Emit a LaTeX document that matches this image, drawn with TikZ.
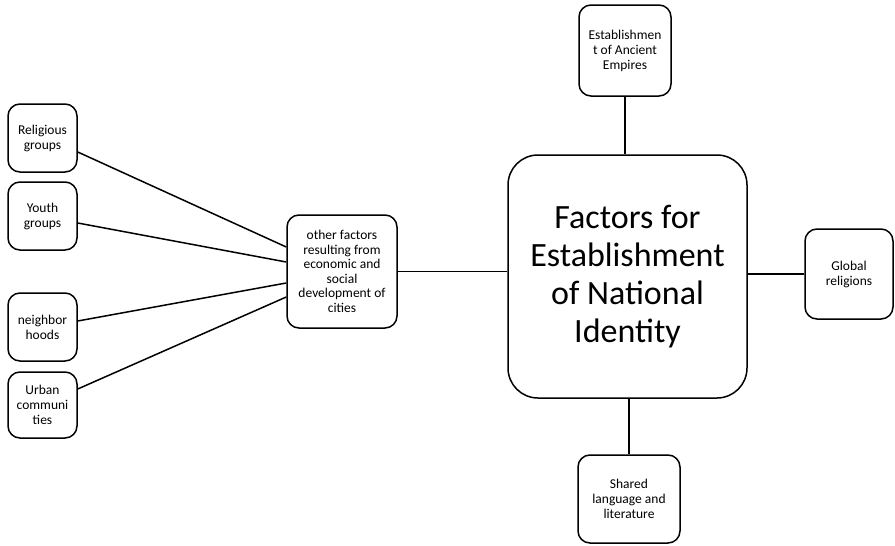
\documentclass[tikz,border=0pt]{standalone}
\usepackage{fontspec}
\setmainfont{Carlito}

\begin{document}
\begin{tikzpicture}[x=1pt,y=-1pt,
    box/.style={draw,line width=1.5pt,rounded corners=12pt,align=center,
      inner sep=0pt,font=\fontsize{13.5}{15}\selectfont},
    link/.style={line width=1.5pt}]
  \useasboundingbox (0,0) rectangle (895,546);

  % centre and the four outer factors
  \node[box,rounded corners=30pt,minimum width=239pt,minimum height=243pt,
    font=\fontsize{34}{38}\selectfont] (main) at (627.5,276.5)
    {Factors for\\Establishment\\of National\\Identity};
  \node[box,minimum width=92pt,minimum height=91pt] (empire) at (625,50.5)
    {Establishmen\\t of Ancient\\Empires};
  \node[box,minimum width=88pt,minimum height=90pt] (global) at (849,274)
    {Global\\religions};
  \node[box,minimum width=102pt,minimum height=88pt] (shared) at (629,499)
    {Shared\\language and\\literature};
  \node[box,minimum width=110pt,minimum height=113pt,
    font=\fontsize{13.5}{14.5}\selectfont] (other) at (342,271.5)
    {other factors\\resulting from\\economic and\\social\\development of\\cities};

  % the small groups on the left
  \node[box,minimum width=69pt,minimum height=68pt] (relig) at (42.5,138)
    {Religious\\groups};
  \node[box,minimum width=69pt,minimum height=68pt] (youth) at (42.5,216)
    {Youth\\groups};
  \node[box,minimum width=69pt,minimum height=68pt] (hood) at (42.5,327)
    {neighbor\\hoods};
  \node[box,minimum width=69pt,minimum height=66pt] (urban) at (42.5,405)
    {Urban\\communi\\ties};

  \draw[link] (empire.south) -- (empire.south |- main.north);
  \draw[link] (global.west) -- (global.west -| main.east);
  \draw[link] (shared.north) -- (shared.north |- main.south);
  \draw[link] (other.east) -- (other.east -| main.west);

  \draw[link] ([yshift=-14pt]relig.east) -- ([yshift=24.5pt]other.west);
  \draw[link] ([yshift=-7pt]youth.east) -- ([yshift=9.5pt]other.west);
  \draw[link] ([yshift=6pt]hood.east) -- ([yshift=-11.5pt]other.west);
  \draw[link] ([yshift=16pt]urban.east) -- ([yshift=-25.5pt]other.west);
\end{tikzpicture}
\end{document}
